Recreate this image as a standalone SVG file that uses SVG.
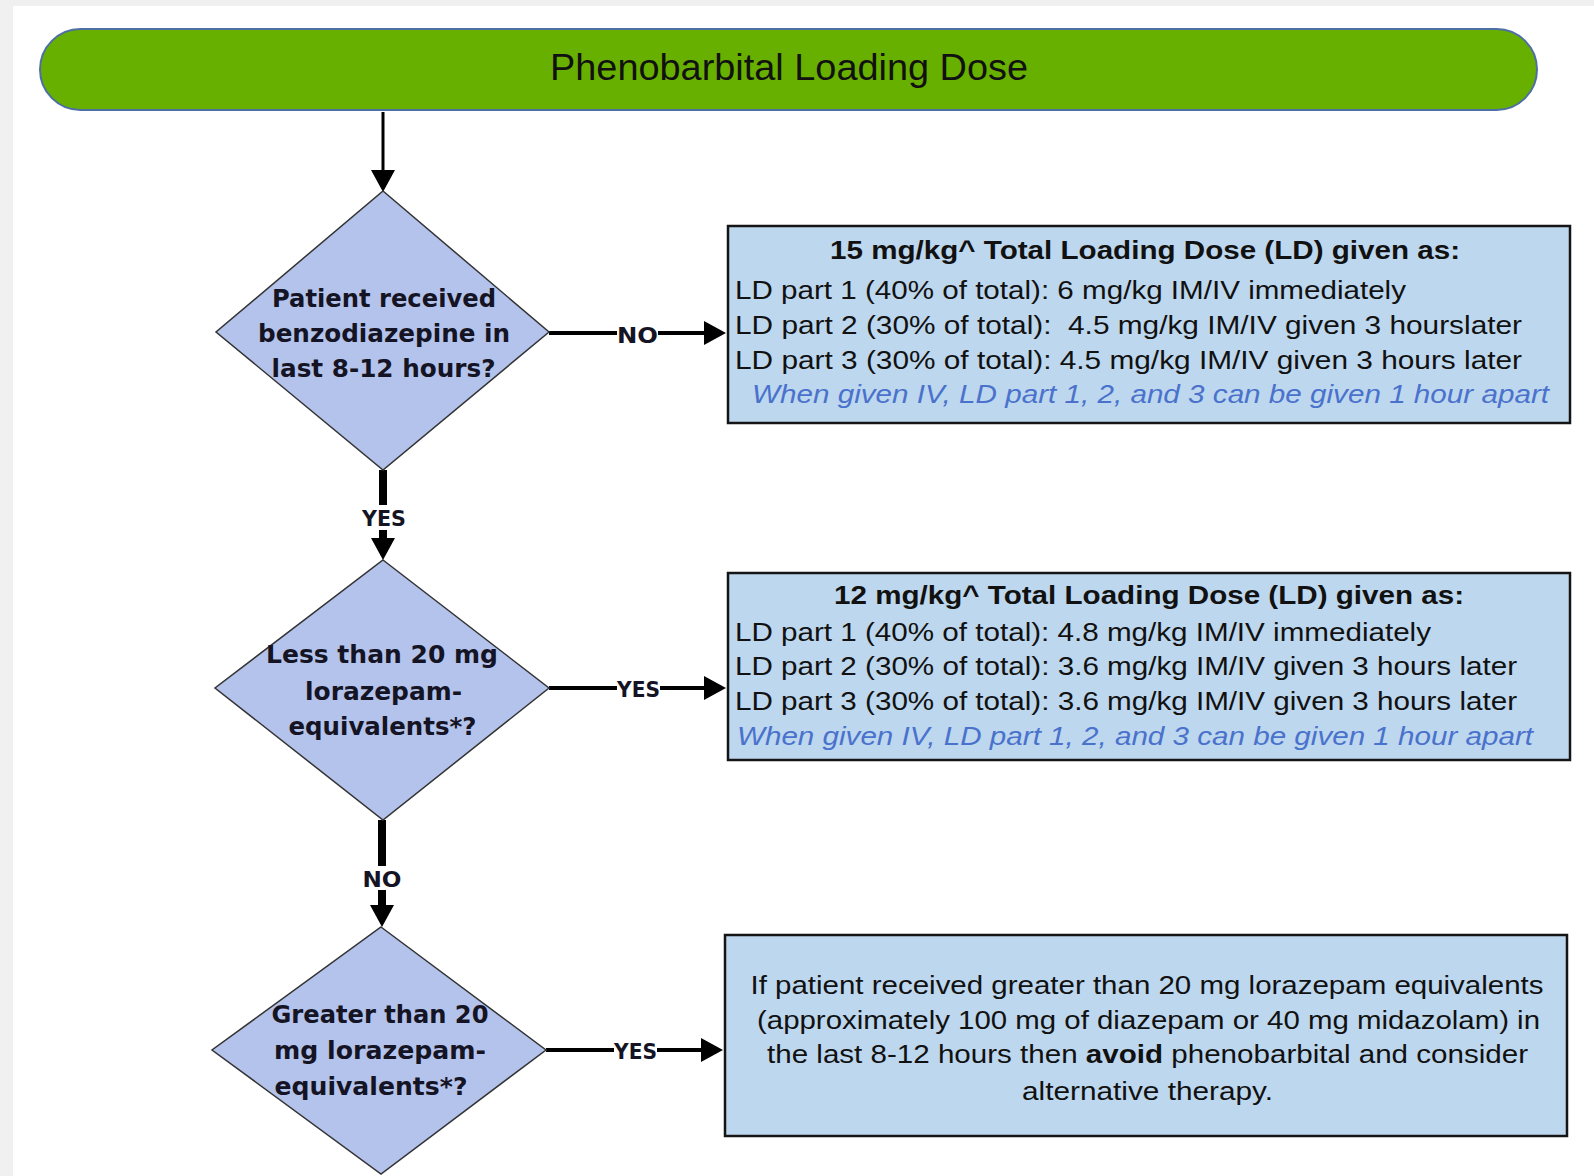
<svg xmlns="http://www.w3.org/2000/svg" width="1594" height="1176" viewBox="0 0 1594 1176">
  <style>
    .title { font-family: "Liberation Sans", Arial, sans-serif; font-size: 36px; fill: #111; }
    .dtext { font-family: "DejaVu Sans", "Liberation Sans", sans-serif; font-weight: bold; font-size: 25px; fill: #141424; }
    .lbl { font-family: "DejaVu Sans", "Liberation Sans", sans-serif; font-weight: bold; font-size: 22px; fill: #141424; }
    .btext { font-family: "Liberation Sans", Arial, sans-serif; font-size: 26px; fill: #111; }
    .bhead { font-family: "Liberation Sans", Arial, sans-serif; font-size: 26px; font-weight: bold; fill: #111; }
    .note { font-family: "Liberation Sans", Arial, sans-serif; font-size: 26px; font-style: italic; fill: #4a72cc; }
    .diamond { fill: #b4c3ec; stroke: #333; stroke-width: 1.5; }
    .box { fill: #bdd7ee; stroke: #151515; stroke-width: 2.5; }
    .conn { fill: none; stroke: #000; }
    .lblbg { fill: #ffffff; }
  </style>
  <defs>
    <marker id="arrow" markerUnits="userSpaceOnUse" markerWidth="24" markerHeight="24" viewBox="0 0 22 24" refX="0" refY="12" orient="auto">
      <path d="M0,0 L22,12 L0,24 z" fill="#000"/>
    </marker>
  </defs>

  <rect x="0" y="0" width="1594" height="1176" fill="#ffffff"/>
  <rect x="0" y="0" width="1594" height="6" fill="#f0f0f0"/>
  <rect x="0" y="0" width="13" height="1176" fill="#f0f0f0"/>

  <g id="start">
    <rect x="40" y="29" width="1497" height="81" rx="40.5" ry="40.5" fill="#68b000" stroke="#4d6fa3" stroke-width="2"/>
    <text class="title" x="789" y="80" text-anchor="middle" textLength="478" lengthAdjust="spacingAndGlyphs">Phenobarbital Loading Dose</text>
  </g>

  <g id="connectors">
    <path class="conn" d="M383,112 L383,170" stroke-width="3" marker-end="url(#arrow)"/>
    <path class="conn" d="M383,470 L383,538" stroke-width="8" marker-end="url(#arrow)"/>
    <rect class="lblbg" x="361" y="505" width="46" height="25"/>
    <text class="lbl" x="384" y="526" text-anchor="middle" textLength="44" lengthAdjust="spacingAndGlyphs">YES</text>
    <path class="conn" d="M382,820 L382,905" stroke-width="8" marker-end="url(#arrow)"/>
    <rect class="lblbg" x="361" y="866" width="42" height="24"/>
    <text class="lbl" x="382" y="887" text-anchor="middle" textLength="39" lengthAdjust="spacingAndGlyphs">NO</text>

    <path class="conn" d="M549,333 L704,333" stroke-width="4" marker-end="url(#arrow)"/>
    <rect class="lblbg" x="617" y="324" width="41" height="20"/>
    <text class="lbl" x="637.5" y="343" text-anchor="middle" textLength="41" lengthAdjust="spacingAndGlyphs">NO</text>

    <path class="conn" d="M549,688 L704,688" stroke-width="4" marker-end="url(#arrow)"/>
    <rect class="lblbg" x="617" y="679" width="43" height="19"/>
    <text class="lbl" x="638.5" y="697" text-anchor="middle" textLength="43" lengthAdjust="spacingAndGlyphs">YES</text>

    <path class="conn" d="M546,1050 L701,1050" stroke-width="4" marker-end="url(#arrow)"/>
    <rect class="lblbg" x="614" y="1041" width="43" height="19"/>
    <text class="lbl" x="635.5" y="1059" text-anchor="middle" textLength="43" lengthAdjust="spacingAndGlyphs">YES</text>
  </g>

  <g id="decision1">
    <polygon class="diamond" points="383,191 549,332 383,470 216,332"/>
    <text class="dtext" x="384" y="307" text-anchor="middle" textLength="224" lengthAdjust="spacingAndGlyphs">Patient received</text>
    <text class="dtext" x="384" y="342" text-anchor="middle" textLength="252" lengthAdjust="spacingAndGlyphs">benzodiazepine in</text>
    <text class="dtext" x="383.5" y="377" text-anchor="middle" textLength="224" lengthAdjust="spacingAndGlyphs">last 8-12 hours?</text>
  </g>

  <g id="decision2">
    <polygon class="diamond" points="383,560 549,688 383,820 215,688"/>
    <text class="dtext" x="382" y="663" text-anchor="middle" textLength="232" lengthAdjust="spacingAndGlyphs">Less than 20 mg</text>
    <text class="dtext" x="383.5" y="700" text-anchor="middle" textLength="157" lengthAdjust="spacingAndGlyphs">lorazepam-</text>
    <text class="dtext" x="382.5" y="735" text-anchor="middle" textLength="188" lengthAdjust="spacingAndGlyphs">equivalents*?</text>
  </g>

  <g id="decision3">
    <polygon class="diamond" points="381,927 546,1050 381,1174 212,1050"/>
    <text class="dtext" x="380" y="1023" text-anchor="middle" textLength="217" lengthAdjust="spacingAndGlyphs">Greater than 20</text>
    <text class="dtext" x="380" y="1059" text-anchor="middle" textLength="212" lengthAdjust="spacingAndGlyphs">mg lorazepam-</text>
    <text class="dtext" x="371" y="1095" text-anchor="middle" textLength="193" lengthAdjust="spacingAndGlyphs">equivalents*?</text>
  </g>

  <g id="dose15">
    <rect class="box" x="728" y="226" width="842" height="197"/>
    <text class="bhead" x="1145" y="259" text-anchor="middle" textLength="630" lengthAdjust="spacingAndGlyphs">15 mg/kg^ Total Loading Dose (LD) given as:</text>
    <text class="btext" x="735" y="299" textLength="671" lengthAdjust="spacingAndGlyphs">LD part 1 (40% of total): 6 mg/kg IM/IV immediately</text>
    <text class="btext" x="735" y="334" textLength="787" lengthAdjust="spacingAndGlyphs" xml:space="preserve">LD part 2 (30% of total):  4.5 mg/kg IM/IV given 3 hourslater</text>
    <text class="btext" x="735" y="369" textLength="787" lengthAdjust="spacingAndGlyphs">LD part 3 (30% of total): 4.5 mg/kg IM/IV given 3 hours later</text>
    <text class="note" x="752" y="403" textLength="797" lengthAdjust="spacingAndGlyphs">When given IV, LD part 1, 2, and 3 can be given 1 hour apart</text>
  </g>

  <g id="dose12">
    <rect class="box" x="728" y="573" width="842" height="187"/>
    <text class="bhead" x="1149" y="604" text-anchor="middle" textLength="630" lengthAdjust="spacingAndGlyphs">12 mg/kg^ Total Loading Dose (LD) given as:</text>
    <text class="btext" x="735" y="641" textLength="696" lengthAdjust="spacingAndGlyphs">LD part 1 (40% of total): 4.8 mg/kg IM/IV immediately</text>
    <text class="btext" x="735" y="675" textLength="782" lengthAdjust="spacingAndGlyphs">LD part 2 (30% of total): 3.6 mg/kg IM/IV given 3 hours later</text>
    <text class="btext" x="735" y="710" textLength="782" lengthAdjust="spacingAndGlyphs">LD part 3 (30% of total): 3.6 mg/kg IM/IV given 3 hours later</text>
    <text class="note" x="737" y="745" textLength="796" lengthAdjust="spacingAndGlyphs">When given IV, LD part 1, 2, and 3 can be given 1 hour apart</text>
  </g>

  <g id="avoid">
    <rect class="box" x="725" y="935" width="842" height="201"/>
    <text class="btext" x="1147" y="994" text-anchor="middle" textLength="793" lengthAdjust="spacingAndGlyphs">If patient received greater than 20 mg lorazepam equivalents</text>
    <text class="btext" x="1148.5" y="1029" text-anchor="middle" textLength="783" lengthAdjust="spacingAndGlyphs">(approximately 100 mg of diazepam or 40 mg midazolam) in</text>
    <text class="btext" x="1147.5" y="1063" text-anchor="middle" textLength="761" lengthAdjust="spacingAndGlyphs">the last 8-12 hours then <tspan font-weight="bold">avoid</tspan> phenobarbital and consider</text>
    <text class="btext" x="1147.5" y="1100" text-anchor="middle" textLength="251" lengthAdjust="spacingAndGlyphs">alternative therapy.</text>
  </g>
</svg>
